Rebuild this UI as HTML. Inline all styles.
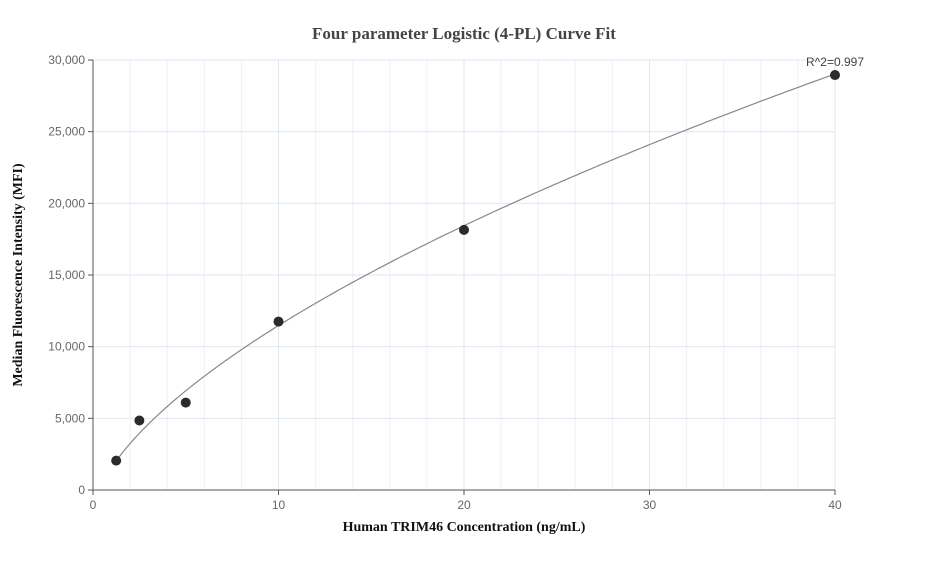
<!DOCTYPE html>
<html><head><meta charset="utf-8"><style>
body{margin:0;background:#fff;}
svg text{font-family:"Liberation Sans",sans-serif;}
</style></head><body>
<svg id="chart" width="927" height="560" xmlns="http://www.w3.org/2000/svg">
<text x="464" y="39" text-anchor="middle" font-family="Liberation Serif" style="font-family:'Liberation Serif',serif" font-weight="bold" font-size="17" fill="#444">Four parameter Logistic (4-PL) Curve Fit</text>
<g id="grid"></g>
<g id="axes"></g>
<g id="marks"></g>
<text x="464" y="531" text-anchor="middle" style="font-family:'Liberation Serif',serif" font-weight="bold" font-size="14" fill="#111">Human TRIM46 Concentration (ng/mL)</text>
<text transform="translate(22,275) rotate(-90)" text-anchor="middle" style="font-family:'Liberation Serif',serif" font-weight="bold" font-size="14" fill="#111">Median Fluorescence Intensity (MFI)</text>
</svg>
<script>
const xValues=[1.25,2.5,5,10,20,40];
const yValues=[2050,4850,6100,11750,18150,28950];
const xTicks=[0,10,20,30,40];
const yTicks=[0,5000,10000,15000,20000,25000,30000];
const fitParams=[-1500,0.63,10000,1018500]; // a,b,c,d
const r2Label="R^2=0.997";
const NS="http://www.w3.org/2000/svg";
const X0=93,X1=835,Y0=490,Y1=60;
const sx=v=>X0+(v-0)/(40-0)*(X1-X0);
const sy=v=>Y0-(v-0)/(30000-0)*(Y0-Y1);
function mk(t,a,p){const e=document.createElementNS(NS,t);for(const k in a)e.setAttribute(k,a[k]);p.appendChild(e);return e;}
const grid=document.getElementById('grid'),axes=document.getElementById('axes'),marks=document.getElementById('marks');
for(let v=2;v<=40;v+=2){const l=mk('line',{x1:sx(v),x2:sx(v),y1:Y1,y2:Y0,stroke:v%10==0?'#e0e6f0':'#eef1f7','stroke-width':1},grid);

}
yTicks.forEach(v=>{if(v===0)return;const l=mk('line',{x1:X0,x2:X1,y1:sy(v),y2:sy(v),stroke:'#e0e6f0','stroke-width':1},grid);

});
const xa=mk('line',{x1:X0,x2:X1,y1:Y0,y2:Y0,stroke:'#555'},axes);


const ya=mk('line',{x1:X0,x2:X0,y1:Y1,y2:Y0,stroke:'#555'},axes);


xTicks.forEach(v=>{const t=mk('line',{x1:sx(v),x2:sx(v),y1:Y0,y2:Y0+5,stroke:'#555'},axes);


const tx=mk('text',{x:sx(v),y:Y0+19,'text-anchor':'middle','font-size':12,fill:'#666'},axes);tx.textContent=v;

});
yTicks.forEach(v=>{const t=mk('line',{x1:X0-5,x2:X0,y1:sy(v),y2:sy(v),stroke:'#555'},axes);


const tx=mk('text',{x:X0-8,y:sy(v)+4,'text-anchor':'end','font-size':12,fill:'#666'},axes);tx.textContent=v.toLocaleString('en-US');

});
const [a,b,c,d]=fitParams;
const f=x=>d+(a-d)/(1+Math.pow(x/c,b));
let p='';for(let i=0;i<=200;i++){const x=xValues[0]+(40-xValues[0])*i/200;p+=(i?'L':'M')+sx(x).toFixed(2)+','+sy(f(x)).toFixed(2);}
const cur=mk('path',{d:p,fill:'none',stroke:'#888','stroke-width':1.2},marks);


xValues.forEach((x,i)=>{const c=mk('circle',{cx:sx(x),cy:sy(yValues[i]),r:5,fill:'#2b2b2b'},marks);

});
const r=mk('text',{x:sx(40),y:sy(yValues[5])-9,'text-anchor':'middle','font-size':12,fill:'#444'},marks);r.textContent=r2Label;


</script>
</body></html>
